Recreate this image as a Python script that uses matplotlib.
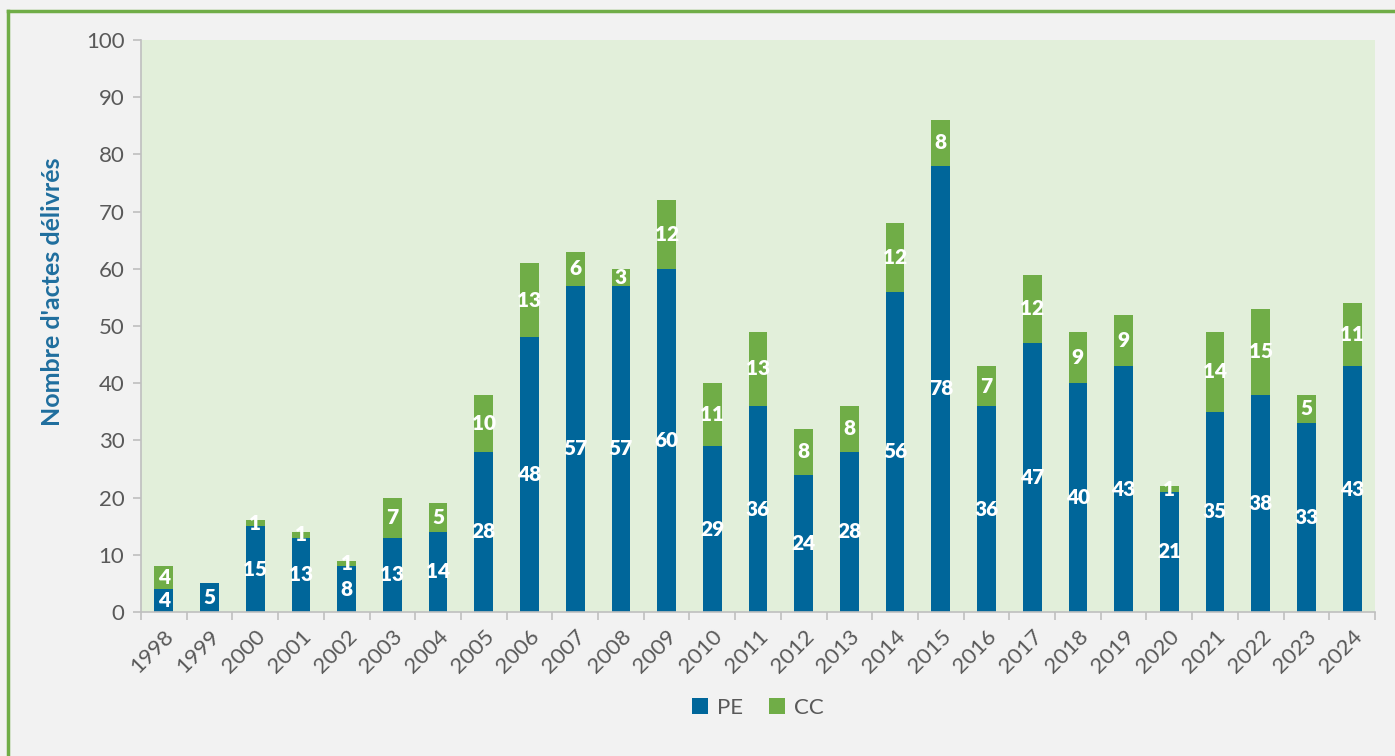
import matplotlib.pyplot as plt
import numpy as np

plt.rcParams['font.family'] = ['Lato', 'DejaVu Sans']

years = [str(y) for y in range(1998, 2025)]
pe = [4, 5, 15, 13, 8, 13, 14, 28, 48, 57, 57, 60, 29, 36, 24, 28, 56, 78,
      36, 47, 40, 43, 21, 35, 38, 33, 43]
cc = [4, 0, 1, 1, 1, 7, 5, 10, 13, 6, 3, 12, 11, 13, 8, 8, 12, 8,
      7, 12, 9, 9, 1, 14, 15, 5, 11]

c_pe = '#00669a'
c_cc = '#70ad47'
grey = '#595959'

fig = plt.figure(figsize=(13.95, 7.56), dpi=100, facecolor='#f2f2f2')
ax = fig.add_axes([141 / 1395, 1 - 612 / 756, 1234 / 1395, 572 / 756])
ax.set_facecolor('#e2efda')

x = np.arange(len(years))
ax.bar(x, pe, width=0.41, color=c_pe, label='PE')
ax.bar(x, cc, width=0.41, bottom=pe, color=c_cc, label='CC')

for i in range(len(years)):
    ax.text(x[i], pe[i] / 2, str(pe[i]), ha='center', va='center',
            color='white', fontsize=15, fontweight='heavy')
    if cc[i] > 0:
        ax.text(x[i], pe[i] + cc[i] / 2, str(cc[i]), ha='center', va='center',
                color='white', fontsize=15, fontweight='heavy')

ax.set_xlim(-0.5, len(years) - 0.5)
ax.set_ylim(0, 100)
ax.set_yticks(range(0, 101, 10))
ax.set_xticks(x)
ax.set_xticklabels(years, rotation=45, ha='right', rotation_mode='anchor')
ax.set_xticks(np.arange(-0.5, len(years), 1), minor=True)
ax.tick_params(axis='x', which='major', length=0, labelsize=16, labelcolor=grey, pad=10)
ax.tick_params(axis='x', which='minor', length=6, color='#bfbfbf', width=1.2)
ax.tick_params(axis='y', length=6, color='#bfbfbf', width=1.2, labelsize=16,
               labelcolor=grey, pad=6)

for s in ['top', 'right']:
    ax.spines[s].set_visible(False)
for s in ['left', 'bottom']:
    ax.spines[s].set_color('#bfbfbf')
    ax.spines[s].set_linewidth(1.2)

ax.set_ylabel("Nombre d'actes délivrés", color='#1f6e9e', fontsize=18,
              fontweight='bold')
ax.yaxis.set_label_coords(-0.062, 0.56)

ax.legend(loc='upper center', bbox_to_anchor=(0.5, -0.115), ncol=2, frameon=False,
          fontsize=16, handlelength=0.7, handleheight=0.7, handletextpad=0.4,
          columnspacing=1.2, labelcolor=grey)

# green frame
fig.add_artist(plt.Line2D([8 / 1395, 1], [1 - 11 / 756, 1 - 11 / 756],
                          color=c_cc, lw=2.5, transform=fig.transFigure))
fig.add_artist(plt.Line2D([8 / 1395, 8 / 1395], [0, 1 - 11 / 756],
                          color=c_cc, lw=2.5, transform=fig.transFigure))

fig.savefig('out.png', dpi=100, facecolor=fig.get_facecolor())
